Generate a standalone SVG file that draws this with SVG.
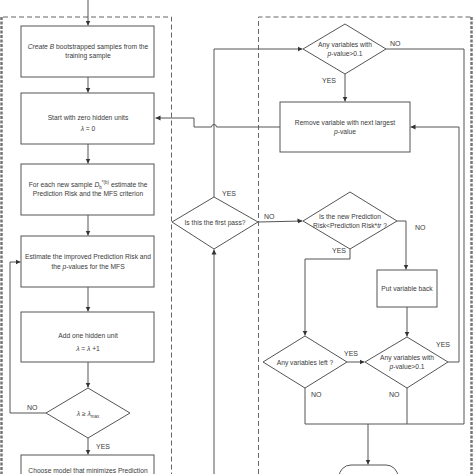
<svg xmlns="http://www.w3.org/2000/svg" width="474" height="474" viewBox="0 0 474 474">
<defs>
<marker id="ah" markerWidth="6" markerHeight="6" refX="5" refY="3" orient="auto" markerUnits="userSpaceOnUse">
<path d="M0,0.5 L5,3 L0,5.5 Z" fill="#333"/>
</marker>
<style>
.box{fill:#fff;stroke:#555;stroke-width:1}
.ln{fill:none;stroke:#555;stroke-width:1}
.dash{fill:none;stroke:#666;stroke-width:1;stroke-dasharray:5,3}
.thick{fill:none;stroke:#777;stroke-width:2.5;stroke-dasharray:3,1.5}
text{font-family:"Liberation Sans",Arial,sans-serif;font-size:6.7px;fill:#3a3a3a;text-anchor:middle}
.lbl{text-anchor:start;font-size:7px}
.it{font-style:italic}
</style>
</defs>
<rect width="474" height="474" fill="#fff"/>
<g id="frames">
<path class="dash" d="M3,17 H171.5 V474"/>
<path class="thick" d="M1.5,17 V474"/>
<path class="dash" d="M258.5,474 V17 H471"/>
<path class="thick" d="M471.5,17 V474"/>
</g>
<g id="connectors">
<path class="ln" d="M88,0 V25.5" marker-end="url(#ah)"/>
<path class="ln" d="M88,77 V92.5" marker-end="url(#ah)"/>
<path class="ln" d="M88,144 V163.5" marker-end="url(#ah)"/>
<path class="ln" d="M88,215 V235.5" marker-end="url(#ah)"/>
<path class="ln" d="M88,287 V311.5" marker-end="url(#ah)"/>
<path class="ln" d="M88,362 V387.5" marker-end="url(#ah)"/>
<path class="ln" d="M88,438 V454.5" marker-end="url(#ah)"/>
<path class="ln" d="M46,413 H10 V262 H20.5" marker-end="url(#ah)"/>
<path class="ln" d="M280,127 H216.5 A2.5,2.5 0 0 0 211.5,127 H194 V118 H155.5" marker-end="url(#ah)"/>
<path class="ln" d="M214,197 V49 H302.5" marker-end="url(#ah)"/>
<path class="ln" d="M214,474 V249.5" marker-end="url(#ah)"/>
<path class="ln" d="M258,222 L302.5,221" marker-end="url(#ah)"/>
<path class="ln" d="M345,74 V101.5" marker-end="url(#ah)"/>
<path class="ln" d="M397,221 H406 V269.5" marker-end="url(#ah)"/>
<path class="ln" d="M350,249 V259 H305 V335.5" marker-end="url(#ah)"/>
<path class="ln" d="M407,307 V336.5" marker-end="url(#ah)"/>
<path class="ln" d="M347,362 H364.5" marker-end="url(#ah)"/>
<path class="ln" d="M448,362 H459 V127 H410.5" marker-end="url(#ah)"/>
<path class="ln" d="M386,49 H464 V424 H305 V388"/>
<path class="ln" d="M407,388 V424"/>
<path class="ln" d="M368,424 V464.5" marker-end="url(#ah)"/>
</g>
<g id="n1">
<rect class="box" x="21" y="26" width="133" height="51"/>
<text x="88" y="49"><tspan class="it">Create B</tspan> bootstrapped samples from the</text>
<text x="88" y="58">training sample</text>
</g>
<g id="n2">
<rect class="box" x="21" y="93" width="133" height="51"/>
<text x="88" y="120">Start with zero hidden units</text>
<text x="88" y="131"><tspan class="it">λ</tspan> = 0</text>
</g>
<g id="n3">
<rect class="box" x="21" y="164" width="133" height="51"/>
<text x="88" y="187">For each new sample <tspan class="it">D</tspan><tspan dy="2" font-size="4.5">b</tspan><tspan dy="-5" font-size="4.5">*(b)</tspan><tspan dy="3"> estimate the</tspan></text>
<text x="88" y="196">Prediction Risk and the MFS criterion</text>
</g>
<g id="n4">
<rect class="box" x="21" y="236" width="133" height="51"/>
<text x="88" y="259">Estimate the improved Prediction Risk and</text>
<text x="88" y="269">the <tspan class="it">p</tspan>-values for the  MFS</text>
</g>
<g id="n5">
<rect class="box" x="21" y="312" width="133" height="50"/>
<text x="88" y="338">Add one hidden unit</text>
<text x="88" y="351"><tspan class="it">λ</tspan> = <tspan class="it">λ</tspan> +1</text>
</g>
<g id="n6">
<polygon class="box" points="88,388 130,413 88,438 46,413"/>
<text x="88" y="416"><tspan class="it">λ</tspan> ≥ <tspan class="it">λ</tspan><tspan dy="2" font-size="4.5">max</tspan></text>
<text class="lbl" x="27" y="410">NO</text>
<text class="lbl" x="96" y="449">YES</text>
</g>
<g id="n7">
<rect class="box" x="21" y="455" width="133" height="30"/>
<text x="88" y="473">Choose model that minimizes Prediction</text>
</g>
<g id="n8">
<polygon class="box" points="214,197 258,222 214,249 172,222"/>
<text x="215" y="225">Is this the first pass?</text>
<text class="lbl" x="222" y="196">YES</text>
<text class="lbl" x="264" y="219">NO</text>
</g>
<g id="n9">
<polygon class="box" points="345,24 386,49 345,74 303,49"/>
<text x="345" y="47">Any variables with</text>
<text x="345" y="56"><tspan class="it">p</tspan>-value&gt;0.1</text>
<text class="lbl" x="390" y="46">NO</text>
<text class="lbl" x="322" y="83">YES</text>
</g>
<g id="n10">
<rect class="box" x="280" y="102" width="130" height="50"/>
<text x="345" y="125">Remove variable with next largest</text>
<text x="345" y="134"><tspan class="it">p</tspan>-value</text>
</g>
<g id="n11">
<polygon class="box" points="350,192 397,221 350,249 303,221"/>
<text x="350" y="219">Is the new Prediction</text>
<text x="350" y="228">Risk&lt;Prediction Risk*<tspan class="it">tr</tspan> ?</text>
<text class="lbl" x="415" y="230">NO</text>
<text class="lbl" x="332" y="253">YES</text>
</g>
<g id="n12">
<rect class="box" x="377" y="270" width="60" height="37"/>
<text x="407" y="291">Put variable back</text>
</g>
<g id="n13">
<polygon class="box" points="305,336 347,362 305,388 263,362"/>
<text x="305" y="365">Any variables left ?</text>
<text class="lbl" x="344" y="356">YES</text>
<text class="lbl" x="311" y="397">NO</text>
</g>
<g id="n14">
<polygon class="box" points="407,337 448,362 407,388 365,362"/>
<text x="407" y="360">Any variables with</text>
<text x="407" y="369"><tspan class="it">p</tspan>-value&gt;0.1</text>
<text class="lbl" x="436" y="347">YES</text>
<text class="lbl" x="389" y="397">NO</text>
</g>
<g id="n15">
<rect class="box" x="339" y="465" width="59" height="30" rx="12"/>
</g>
</svg>
